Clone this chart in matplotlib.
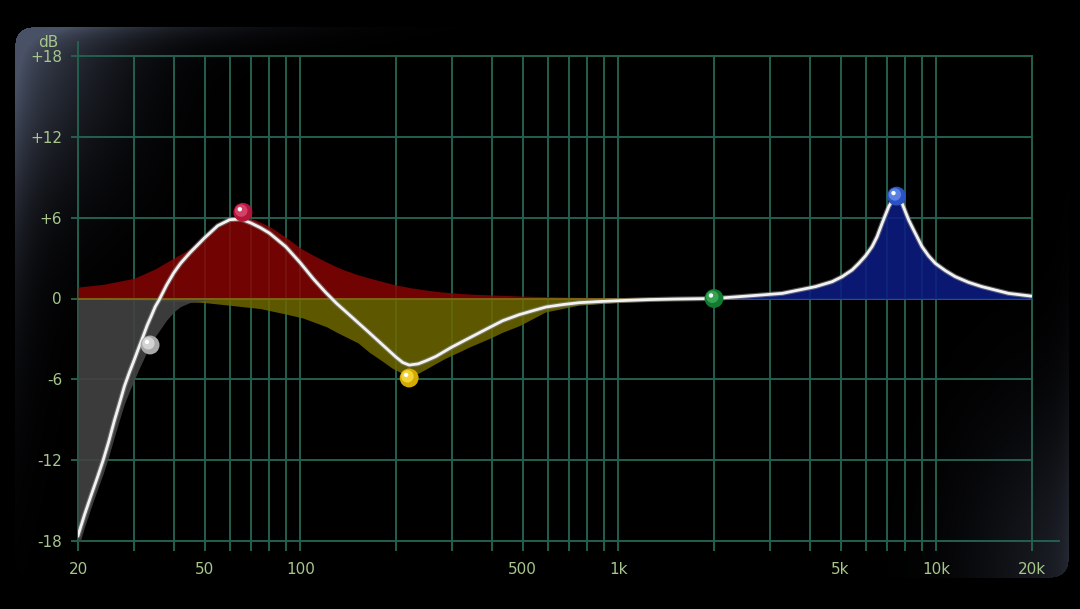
import numpy as np
import matplotlib
matplotlib.use('Agg')
import matplotlib.pyplot as plt
from matplotlib.transforms import offset_copy
from matplotlib.ticker import NullLocator

# EQ display: composite response plus the individual bands

# low cut band (grey)
hp_f = [20, 21, 22, 23, 24, 25, 26, 27, 28, 29, 30, 31, 32, 33, 34, 35, 36, 38, 40, 42, 45, 50, 60, 80]
hp_db = [-18.6, -16.9, -15.5, -14.2, -13.0, -11.7, -10.3, -9.0, -7.8, -6.9, -6.1, -5.3, -4.6, -3.9,
         -3.4, -2.8, -2.4, -1.6, -1.0, -0.6, -0.3, -0.12, -0.04, 0.0]

# low bell (red)
red_f = [20, 24, 30, 35, 39, 44, 49, 55, 61, 66, 72, 80, 90, 100, 110, 120, 130, 140, 150, 165,
         180, 200, 225, 250, 280, 340, 500, 700, 1000, 2000]
red_db = [0.85, 1.05, 1.5, 2.2, 2.85, 3.55, 4.4, 5.25, 5.9, 6.1, 5.85, 5.35, 4.55, 3.75, 3.2, 2.75,
          2.35, 2.05, 1.8, 1.52, 1.28, 1.0, 0.78, 0.62, 0.48, 0.33, 0.18, 0.1, 0.05, 0.0]

# low-mid cut (yellow)
yel_f = [20, 30, 40, 50, 60, 75, 90, 102, 121, 130, 152, 165, 180, 194, 205, 215, 225, 235, 250,
         268, 285, 300, 320, 340, 390, 433, 490, 590, 750, 1000, 1500, 2000, 3000]
yel_db = [-0.05, -0.1, -0.2, -0.3, -0.5, -0.75, -1.15, -1.45, -2.1, -2.5, -3.3, -4.0, -4.6, -5.15,
          -5.45, -5.65, -5.68, -5.55, -5.2, -4.8, -4.45, -4.2, -3.9, -3.6, -3.0, -2.5, -2.0, -1.0,
          -0.5, -0.28, -0.12, -0.05, 0.0]

# high bell (blue)
blue_f = [2000, 2576, 3278, 4171, 4705, 5057, 5437, 5706, 5988, 6282, 6514, 6754, 6918, 7088, 7262,
          7438, 7618, 7804, 7994, 8190, 8388, 8698, 9020, 9464, 9931, 10678, 11478, 12636, 13918,
          16878, 20000]
blue_db = [0.08, 0.19, 0.38, 0.88, 1.25, 1.62, 2.12, 2.61, 3.16, 3.85, 4.59, 5.58, 6.2, 6.82, 7.26,
           7.56, 7.44, 7.07, 6.45, 5.83, 5.33, 4.59, 3.85, 3.16, 2.61, 2.07, 1.62, 1.2, 0.88, 0.38,
           0.17]

# summed response (white)
sum_f = [20, 21, 22, 23, 24, 25, 26, 27, 28, 29, 30, 31, 32, 33, 34, 35, 36, 38, 40, 42, 45, 50, 55,
         60, 65, 70, 75, 80, 90, 100, 110, 120, 130, 145, 165, 185, 200, 210, 220, 235, 250, 267,
         300, 342, 390, 433, 488, 540, 593, 670, 753, 880, 1006, 1250, 1500, 2000, 2576, 3278,
         4171, 4705, 5057, 5437, 5706, 5988, 6282, 6514, 6754, 6918, 7088, 7262, 7438, 7618, 7804,
         7994, 8190, 8388, 8698, 9020, 9464, 9931, 10678, 11478, 12636, 13918, 16878, 20000]
sum_db = [-17.6, -16.0, -14.6, -13.3, -12.0, -10.6, -9.1, -7.8, -6.5, -5.5, -4.6, -3.7, -2.85,
          -2.0, -1.3, -0.6, -0.1, 1.0, 1.9, 2.6, 3.4, 4.5, 5.4, 5.85, 5.9, 5.6, 5.25, 4.85, 3.85,
          2.65, 1.45, 0.47, -0.36, -1.36, -2.55, -3.62, -4.35, -4.75, -4.94, -4.85, -4.6, -4.3,
          -3.6, -2.9, -2.2, -1.65, -1.2, -0.9, -0.63, -0.45, -0.31, -0.22, -0.16, -0.08, -0.04,
          0.0, 0.19, 0.38, 0.88, 1.25, 1.62, 2.12, 2.61, 3.16, 3.85, 4.59, 5.58, 6.2, 6.82, 7.26,
          7.56, 7.44, 7.07, 6.45, 5.83, 5.33, 4.59, 3.85, 3.16, 2.61, 2.07, 1.62, 1.2, 0.88, 0.38,
          0.17]

# band handles
band_f = [33.7, 66, 220, 2000, 7500]
band_gain = [-3.45, 6.4, -5.9, 0.0, 7.6]
band_col = ['#a8a8a8', '#b3163a', '#d4ab00', '#127a2e', '#2a52c2']
band_hi = ['#e6e6e6', '#e2557a', '#ffe34d', '#45b564', '#6f95f2']

x_grid = [20, 30, 40, 50, 60, 70, 80, 90, 100, 200, 300, 400, 500, 600, 700, 800, 900, 1000,
          2000, 3000, 4000, 5000, 6000, 7000, 8000, 9000, 10000, 20000]
y_grid = [-18, -12, -6, 0, 6, 12, 18]
x_ticks = [20, 50, 100, 500, 1000, 5000, 10000, 20000]
x_labels = ['20', '50', '100', '500', '1k', '5k', '10k', '20k']
y_labels = ['-18', '-12', '-6', '0', '+6', '+12', '+18']

W, H = 1080, 609
fig = plt.figure(figsize=(W / 100, H / 100), dpi=100, facecolor='black')

# bezel glow behind the display (top-left and bottom-right corners)
yy, xx = np.mgrid[0:H, 0:W].astype(float)
x0, y0, x1, y1, r = 15, 27, 1068, 577, 16
cx = np.clip(xx, x0 + r, x1 - r)
cy = np.clip(yy, y0 + r, y1 - r)
inside = ((xx - cx) ** 2 + (yy - cy) ** 2 <= r * r) & (xx >= x0) & (xx <= x1) & (yy >= y0) & (yy <= y1)
dl, dt = np.maximum(xx - x0, 0), np.maximum(yy - y0, 0)
dr, db = np.maximum(x1 - xx, 0), np.maximum(y1 - yy, 0)
tl = (0.24 * np.exp(-(dl / 110) ** 2 - (dt / 150) ** 2)
      + 0.20 * np.exp(-dl / 22) * np.exp(-(dt / 300) ** 2)
      + 0.20 * np.exp(-dt / 14) * np.exp(-(dl / 230) ** 2))
br = (0.13 * np.exp(-(dr / 100) ** 2 - (db / 160) ** 2)
      + 0.07 * np.exp(-dr / 10) * np.exp(-(db / 240) ** 2))
glow = np.clip(tl + br, 0, 0.40) * inside
img = np.dstack([glow * 0.72, glow * 0.8, glow])
bg = fig.add_axes([0, 0, 1, 1])
bg.imshow(img, aspect='auto', interpolation='bilinear')
bg.axis('off')

# plot area: 20 Hz at x=78 px, 20 kHz at x=1032 px, +18 at y=56, -18 at y=541
ax = fig.add_axes([78 / W, 1 - 541 / H, (1032 - 78) / W, (541 - 56) / H])
ax.set_facecolor('none')
ax.set_xscale('log')
ax.set_xlim(20, 20000)
ax.set_ylim(-18, 18)
for s in ax.spines.values():
    s.set_visible(False)

grid_c = '#23604f'
for v in x_grid:
    top = 19.05 if v == 20 else 18
    ax.plot([v, v], [-18.7, top], color=grid_c, lw=1.4, clip_on=False, zorder=1)
for h in y_grid:
    right = 24300 if h == -18 else 20000
    ax.plot([19.1, right], [h, h], color=grid_c, lw=1.4, clip_on=False, zorder=1)

# band fills
ax.fill_between(red_f, 0, red_db, color='#860404', alpha=0.85, lw=0, zorder=2)
ax.fill_between(yel_f, 0, yel_db, color='#6e6800', alpha=0.85, lw=0, zorder=2)
ax.fill_between(hp_f, 0, hp_db, color='#424242', alpha=0.9, lw=0, zorder=2.1)
ax.fill_between(blue_f, 0, blue_db, color='#0c1c82', alpha=0.88, lw=0, zorder=2)
ax.plot(yel_f[:-2], np.zeros(len(yel_f) - 2), color='#7c6a12', lw=1.3, zorder=2.5)

# summed curve
ax.plot(sum_f, sum_db, color='#8a8a8a', lw=3.6, alpha=0.6, zorder=3, solid_capstyle='round')
ax.plot(sum_f, sum_db, color='#f2f2f2', lw=2.0, zorder=3.1, solid_joinstyle='round')

# glossy band handles
for f, g, c, hi in zip(band_f, band_gain, band_col, band_hi):
    ax.scatter([f], [g], s=185, color=c, edgecolors='none', zorder=5, clip_on=False)
    t1 = offset_copy(ax.transData, fig=fig, x=-1.2, y=1.2, units='points')
    ax.scatter([f], [g], s=80, color=hi, edgecolors='none', alpha=0.7, zorder=6, transform=t1)
    t2 = offset_copy(ax.transData, fig=fig, x=-2.2, y=2.2, units='points')
    ax.scatter([f], [g], s=10, color='white', edgecolors='none', zorder=7, transform=t2)

lab_c = '#a6c68c'
ax.xaxis.set_minor_locator(NullLocator())
ax.set_xticks(x_ticks, x_labels)
ax.set_yticks(y_grid, y_labels)
ax.tick_params(axis='x', length=0, pad=15, colors=lab_c, labelsize=11)
ax.tick_params(axis='y', length=0, pad=11.5, colors=lab_c, labelsize=11)
ax.text(-0.0314, 1.027, 'dB', transform=ax.transAxes, ha='center', va='center',
        color=lab_c, fontsize=11)

fig.savefig('out.png', dpi=100, facecolor='black')
